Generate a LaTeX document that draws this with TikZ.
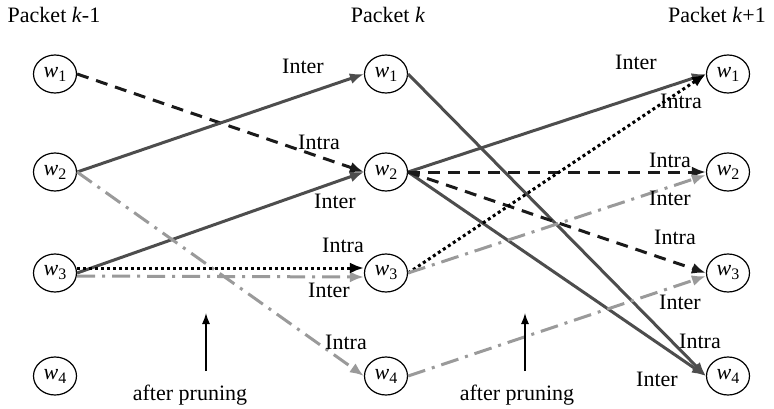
\documentclass[tikz,border=0pt]{standalone}
\usepackage{fontspec}
\setmainfont{Liberation Serif}
\usetikzlibrary{shapes.geometric,arrows.meta}
\definecolor{solidgray}{HTML}{4D4D4D}
\definecolor{lightgray}{HTML}{9A9A9A}
\definecolor{darkdash}{HTML}{1A1A1A}
\tikzset{
  wnode/.style={ellipse,draw,line width=1.2pt,minimum width=43pt,minimum height=38pt,inner sep=0pt},
  lbl/.style={anchor=base,inner sep=0pt},
  inter/.style={draw=solidgray,line width=3pt,-{Latex[length=14pt,width=11pt]}},
  intradash/.style={draw=darkdash,line width=3pt,dash pattern=on 12pt off 8pt,-{Latex[length=14pt,width=11pt]}},
  intradot/.style={draw=black,line width=3pt,dash pattern=on 3pt off 3pt,-{Latex[length=14pt,width=11pt]}},
  prunedot/.style={draw=lightgray,line width=3pt,dash pattern=on 18pt off 7pt on 3pt off 7pt,-{Latex[length=14pt,width=11pt]}},
  uparrow/.style={draw=black,line width=1.3pt,-{Latex[length=11pt,width=8pt]}}
}
\newcommand{\wlab}[1]{\textit{w}\raisebox{-0.4ex}{\fontsize{16}{16}\selectfont #1}}
\begin{document}
\begin{tikzpicture}[x=1pt,y=-1pt,font=\fontsize{22}{26}\selectfont]
\useasboundingbox (0,0) rectangle (774,408);
% titles
\node[lbl] (t1) at (54,22) {Packet \textit{k}-1};
\node[lbl] (t2) at (388,22) {Packet \textit{k}};
\node[lbl] (t3) at (717,22) {Packet \textit{k}+1};
% nodes
\node[wnode] (a1) at (55,74) {\wlab{1}};
\node[wnode] (a2) at (55,172) {\wlab{2}};
\node[wnode] (a3) at (55,273) {\wlab{3}};
\node[wnode] (a4) at (55,376) {\wlab{4}};
\node[wnode] (b1) at (386,74) {\wlab{1}};
\node[wnode] (b2) at (386,172) {\wlab{2}};
\node[wnode] (b3) at (386,273) {\wlab{3}};
\node[wnode] (b4) at (386,376) {\wlab{4}};
\node[wnode] (c1) at (728,74) {\wlab{1}};
\node[wnode] (c2) at (728,172) {\wlab{2}};
\node[wnode] (c3) at (728,273) {\wlab{3}};
\node[wnode] (c4) at (728,376) {\wlab{4}};
% edges k-1 -> k
\path[intradash] (a1.east) -- (b2.west);
\path[inter] (a2.east) -- (b1.west);
\path[inter] (a3.east) -- (b2.west);
\path[prunedot] (a2.east) -- (b4.west);
\path[prunedot] ([yshift=-3pt]a3.east) -- ([yshift=-4pt]b3.west);
\path[intradot] ([yshift=5pt]a3.east) -- ([yshift=5pt]b3.west);
% edges k -> k+1
\path[inter] (b1.east) -- (c4.west);
\path[inter] (b2.east) -- (c1.west);
\path[inter] (b2.east) -- (c4.west);
\path[intradash] (b2.east) -- (c2.west);
\path[intradash] (b2.east) -- (c3.west);
\path[intradot] (b3.east) -- (c1.west);
\path[prunedot] (b3.east) -- ([yshift=-3pt]c2.west);
\path[prunedot] (b4.east) -- ([yshift=-3pt]c3.west);
% labels
\node[lbl] (l1) at (303,73) {Inter};
\node[lbl] (l2) at (319,149) {Intra};
\node[lbl] (l3) at (335,208) {Inter};
\node[lbl] (l4) at (343,252) {Intra};
\node[lbl] (l5) at (329,297) {Inter};
\node[lbl] (l6) at (346,349) {Intra};
\node[lbl] (l7) at (636,69) {Inter};
\node[lbl] (l8) at (681,108) {Intra};
\node[lbl] (l9) at (670,167) {Intra};
\node[lbl] (l10) at (670,205) {Inter};
\node[lbl] (l11) at (675,244) {Intra};
\node[lbl] (l12) at (680,309) {Inter};
\node[lbl] (l13) at (700,348) {Intra};
\node[lbl] (l14) at (657,386) {Inter};
% pruning
\coordinate (p1s) at (206,371);
\coordinate (p1e) at (206,313);
\coordinate (p2s) at (525,371);
\coordinate (p2e) at (525,313);
\path[uparrow] (p1s) -- (p1e);
\path[uparrow] (p2s) -- (p2e);
\node[lbl] (ap1) at (190,400) {after pruning};
\node[lbl] (ap2) at (517,400) {after pruning};
\end{tikzpicture}
\end{document}
